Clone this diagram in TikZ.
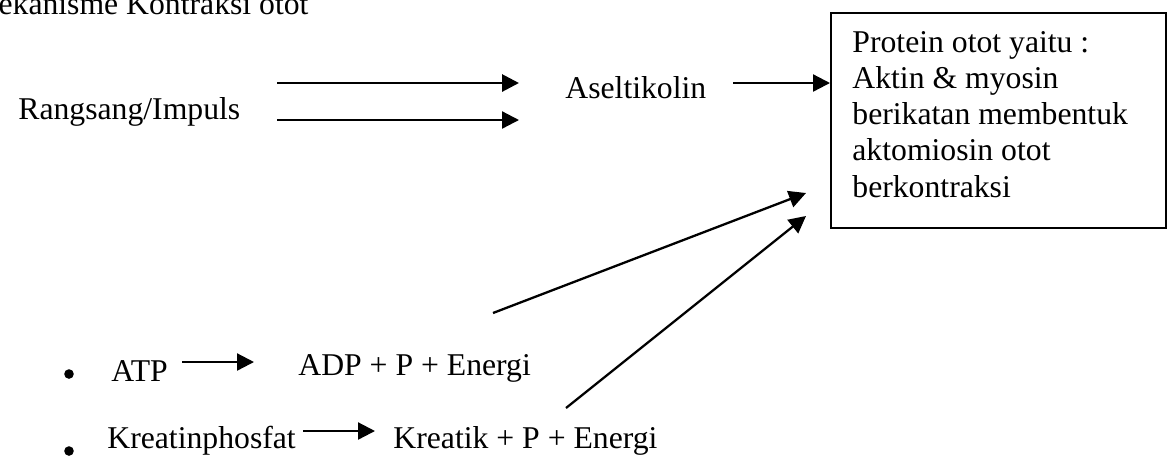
\documentclass[tikz,border=0pt]{standalone}
\usepackage{fontspec}
\setmainfont{Liberation Serif}
\usetikzlibrary{arrows.meta}
\begin{document}
\begin{tikzpicture}[x=0.5pt,y=-0.5pt,
  txt/.style={anchor=base west,inner sep=0pt,font=\fontsize{15.85pt}{18.1pt}\selectfont},
  arr/.style={line width=1.15pt,-{Triangle[length=8.5pt,width=8.5pt]}},
  boxstyle/.style={draw,line width=1.2pt,anchor=north west,inner sep=0pt,minimum width=167.5pt,minimum height=107.5pt},
  dot/.style={circle,fill,inner sep=0pt,minimum size=4.8pt}]
\useasboundingbox (0,0) rectangle (1176,473);
% title (cut at the top-left edge)
\node[txt] (title) at (-30,14) {Mekanisme Kontraksi otot};
% left part
\node[txt] (rang) at (18,119) {Rangsang/Impuls};
\node[txt] (asel) at (565,98) {Aseltikolin};
\coordinate (a1s) at (277,83);  \coordinate (a1e) at (519,83);
\coordinate (a2s) at (277,120); \coordinate (a2e) at (519,120);
\draw[arr,line width=1.45pt] (a1s) -- (a1e);
\draw[arr] (a2s) -- (a2e);
% box
\node[boxstyle] (box) at (830,12) {};
\node[txt] (l1) at (852,52) {Protein otot yaitu :};
\node[txt] (l2) at (852,88) {Aktin \& myosin};
\node[txt] (l3) at (852,124) {berikatan membentuk};
\node[txt] (l4) at (852,160) {aktomiosin otot};
\node[txt] (l5) at (852,197) {berkontraksi};
\coordinate (a3s) at (733,83);
\draw[arr] (a3s) -- (box.west |- a3s);
% bottom part
\node[dot] (b1) at (69,374) {};
\node[dot] (b2) at (69,451) {};
\node[txt] (atp) at (111,381) {ATP};
\node[txt] (adp) at (298,375) {ADP + P + Energi};
\node[txt] (kp) at (107,448) {Kreatinphosfat};
\node[txt] (kr) at (393,448) {Kreatik + P + Energi};
\coordinate (a4s) at (182,362); \coordinate (a4e) at (254,362);
\coordinate (a5s) at (303,431); \coordinate (a5e) at (375,431);
\draw[arr] (a4s) -- (a4e);
\draw[arr] (a5s) -- (a5e);
% diagonal arrows to the box
\coordinate (d1s) at (493,313); \coordinate (d1e) at (806,193);
\coordinate (d2s) at (566,408); \coordinate (d2e) at (806,216);
\draw[arr] (d1s) -- (d1e);
\draw[arr] (d2s) -- (d2e);
\end{tikzpicture}
\end{document}
